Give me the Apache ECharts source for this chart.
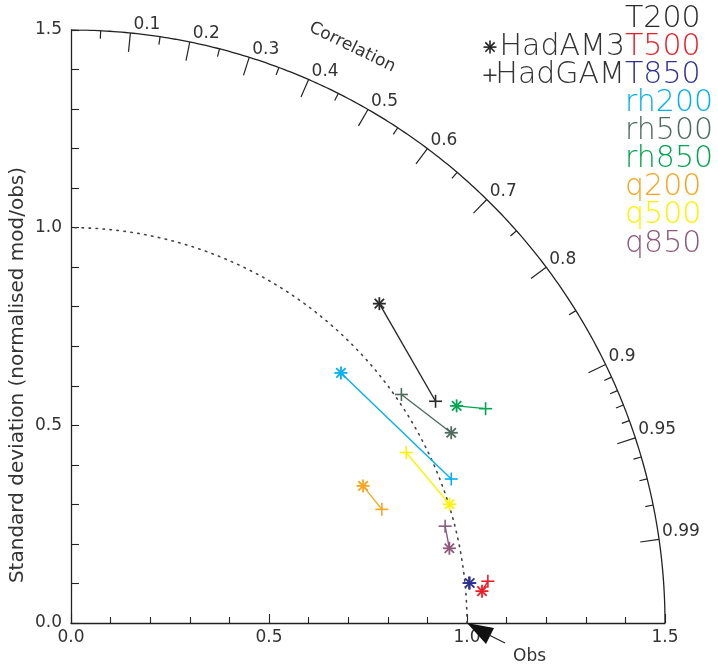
<!DOCTYPE html>
<html><head><meta charset="utf-8">
<script src="https://cdn.jsdelivr.net/npm/echarts@6/dist/echarts.min.js"></script>
<style>html,body{margin:0;padding:0;background:#fff}#c{width:718px;height:668px}</style>
</head><body><div id="c"></div><script>
// ---- data ----
const variables = ['T200','T500','T850','rh200','rh500','rh850','q200','q500','q850'];
const models = ['HadAM3','HadGAM'];
// normalised standard deviation (mod/obs) and correlation with obs
const hadam3Std  = [1.122, 1.041, 1.012, 0.930, 1.074, 1.118, 0.815, 1.002, 0.974];
const hadam3Corr = [0.694, 0.997, 0.995, 0.733, 0.894, 0.871, 0.905, 0.954, 0.981];
const hadgamStd  = [1.078, 1.058, 1.010, 1.027, 1.015, 1.179, 0.836, 0.950, 0.976];
const hadgamCorr = [0.854, 0.995, 0.995, 0.935, 0.822, 0.888, 0.939, 0.891, 0.968];
const corrMajorTicks = [0.1,0.2,0.3,0.4,0.5,0.6,0.7,0.8,0.9,0.95,0.99];
const corrMinorTicks = [0.05,0.15,0.25,0.35,0.45,0.55,0.65,0.75,0.85,0.91,0.92,0.93,0.94,0.96,0.97,0.98];
const refStd = 1.0;
const maxStd = 1.5;
// ---- styles ----
const colors = ['#2a2a2a','#ee1d25','#2e3192','#00b0f0','#4f6b5e','#00a651','#f9a51f','#fff200','#8e5a7b'];
const FONT = 'DejaVu Sans';
const TXT = '#333';

function toXY(std, corr){ return [std*corr, std*Math.sqrt(1-corr*corr)]; }
const am3XY = variables.map((v,i)=>toXY(hadam3Std[i], hadam3Corr[i]));
const gamXY = variables.map((v,i)=>toXY(hadgamStd[i], hadgamCorr[i]));
function arc(r){ const pts=[]; for(let k=0;k<=240;k++){ const t=k/240*Math.PI/2; pts.push([r*Math.cos(t), r*Math.sin(t)]);} return pts; }

function starShape(cx, cy, r, color, lw){
  const d = r*0.72;
  const segs = [[-r,0,r,0],[0,-r,0,r],[-d,-d,d,d],[-d,d,d,-d]];
  return {type:'group', children: segs.map(s=>({type:'line', shape:{x1:cx+s[0],y1:cy+s[1],x2:cx+s[2],y2:cy+s[3]}, style:{stroke:color, lineWidth:lw}}))};
}
function plusShape(cx, cy, r, color, lw){
  const segs = [[-r,0,r,0],[0,-r,0,r]];
  return {type:'group', children: segs.map(s=>({type:'line', shape:{x1:cx+s[0],y1:cy+s[1],x2:cx+s[2],y2:cy+s[3]}, style:{stroke:color, lineWidth:lw}}))};
}

const chart = echarts.init(document.getElementById('c'), null, {renderer:'canvas'});

function corrTickSeries(ticks, len, withLabel){
  return {
    type:'custom', clip:false, silent:true, z:3,
    data: ticks.map(c=>[c, c]),
    renderItem(params, api){
      const c = api.value(0);
      const s = Math.sqrt(1-c*c);
      const p = api.coord([maxStd*c, maxStd*s]);
      const o = api.coord([0,0]);
      const dx = p[0]-o[0], dy = p[1]-o[1], L = Math.hypot(dx,dy);
      const children = [{type:'line', shape:{x1:p[0],y1:p[1],x2:p[0]-dx/L*len,y2:p[1]-dy/L*len}, style:{stroke:'#222', lineWidth:1.2}}];
      if (withLabel) children.push({type:'text', x:p[0]+3, y:p[1]-8, style:{text:String(c), fill:TXT, font:'17px "'+FONT+'"', align:'left', verticalAlign:'middle'}});
      return {type:'group', children};
    }
  };
}

const series = [
  {type:'line', data: arc(maxStd), showSymbol:false, silent:true, lineStyle:{color:'#222', width:1.3}, z:2},
  {type:'line', data: arc(refStd), showSymbol:false, silent:true, lineStyle:{color:'#444', width:1.6, type:[1.5,5.5], cap:'round'}, z:2},
  corrTickSeries(corrMajorTicks, 19, true),
  corrTickSeries(corrMinorTicks, 8, false)
];
variables.forEach((v,i)=>{
  series.push({name:v, type:'line', data:[am3XY[i], gamXY[i]], showSymbol:false, silent:true, lineStyle:{color:colors[i], width:1.4}, z:4});
});
series.push({
  name:models[0], type:'custom', clip:false, z:6,
  data: am3XY.map((p,i)=>[p[0],p[1],i]),
  renderItem(params, api){ const c = api.coord([api.value(0), api.value(1)]); return starShape(c[0], c[1], 6.5, colors[api.value(2)], 1.8); }
});
series.push({
  name:models[1], type:'custom', clip:false, z:6,
  data: gamXY.map((p,i)=>[p[0],p[1],i]),
  renderItem(params, api){ const c = api.coord([api.value(0), api.value(1)]); return plusShape(c[0], c[1], 6.5, colors[api.value(2)], 1.6); }
});
series.push({
  name:'Obs', type:'custom', clip:false, z:7,
  data: [[refStd, 0]],
  renderItem(params, api){
    const c = api.coord([api.value(0), api.value(1)]);
    const x=c[0], y=c[1];
    return {type:'group', children:[
      {type:'polygon', shape:{points:[[x,y],[x+27,y+5],[x+19,y+21]]}, style:{fill:'#111'}},
      {type:'line', shape:{x1:x+22,y1:y+12,x2:x+38,y2:y+20}, style:{stroke:'#222', lineWidth:1.2}},
      {type:'text', x:x+46, y:y+34, style:{text:'Obs', fill:TXT, font:'17px "'+FONT+'"', align:'left', verticalAlign:'middle'}}
    ]};
  }
});

const axisCommon = {
  type:'value', min:0, max:maxStd, interval:0.5,
  axisLine:{show:true, lineStyle:{color:'#222', width:1.3}},
  splitLine:{show:false},
  axisLabel:{formatter:v=>v.toFixed(1), color:TXT, fontSize:17, fontFamily:FONT},
  minorTick:{show:true, splitNumber:5, length:6, lineStyle:{color:'#222', width:1.1}},
  minorSplitLine:{show:false}
};

chart.setOption({
  animation:false,
  backgroundColor:'#fff',
  grid:{left:71, top:30, width:594, height:593},
  xAxis: Object.assign({}, axisCommon, {axisTick:{inside:true, length:9, lineStyle:{color:'#222', width:1.1}}, axisLabel:Object.assign({}, axisCommon.axisLabel, {margin:6})}),
  yAxis: Object.assign({}, axisCommon, {axisTick:{inside:true, length:8, lineStyle:{color:'#222', width:1.1}}, minorTick:Object.assign({}, axisCommon.minorTick, {length:8}), axisLabel:Object.assign({}, axisCommon.axisLabel, {margin:9})}),
  series
});

// annotations and legend
const graphics = [];
graphics.push({type:'text', x:18, y:375, rotation:Math.PI/2, style:{text:'Standard deviation (normalised mod/obs)', fill:TXT, font:'20px "'+FONT+'"', align:'center', verticalAlign:'middle'}});
const th = 64*Math.PI/180;
const cp = chart.convertToPixel({gridIndex:0}, [1.62*Math.cos(th), 1.62*Math.sin(th)]);
graphics.push({type:'text', x:cp[0], y:cp[1], rotation:-(90-64)*Math.PI/180, style:{text:'Correlation', fill:TXT, font:'17px "'+FONT+'"', align:'center', verticalAlign:'middle'}});
variables.forEach((v,i)=>{
  graphics.push({type:'text', x:625, y:19+28.1*i, style:{text:v, fill:colors[i], font:'200 30px "'+FONT+'"', align:'left', verticalAlign:'middle'}});
});
models.forEach((m,j)=>{
  const y = 19+28.1*(j+1);
  graphics.push({type:'text', x:625, y:y, style:{text:m, fill:TXT, font:'200 30px "'+FONT+'"', align:'right', verticalAlign:'middle'}});
  graphics.push(j===0 ? starShape(490, y, 6.5, '#222', 1.6) : plusShape(490, y, 6.5, '#222', 1.4));
});
chart.setOption({graphic: graphics});
</script></body></html>
